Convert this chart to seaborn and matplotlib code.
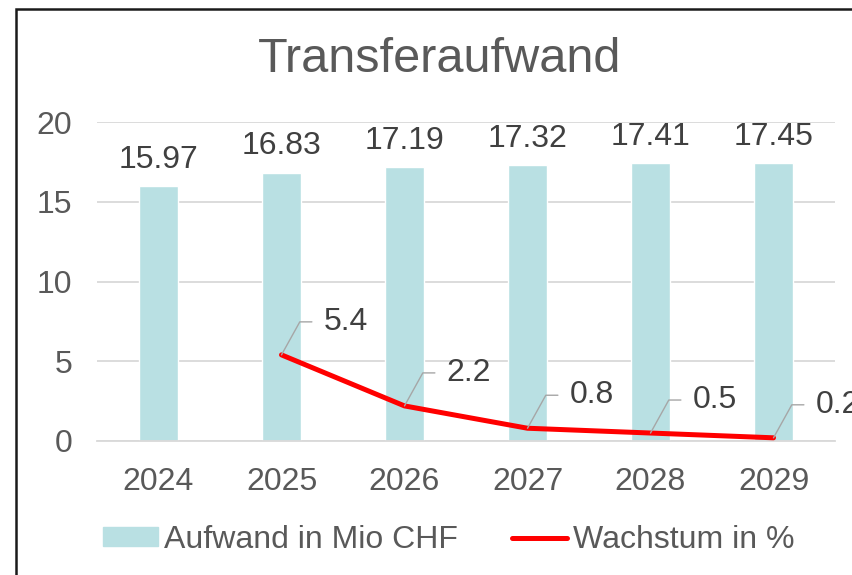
import numpy as np
import pandas as pd
import matplotlib
matplotlib.use('Agg')
import matplotlib.pyplot as plt
import matplotlib.patches as mpatches
import seaborn as sns

# chart data
years = ['2024', '2025', '2026', '2027', '2028', '2029']
aufwand = [15.97, 16.83, 17.19, 17.32, 17.41, 17.45]
wachstum = [np.nan, 5.4, 2.2, 0.8, 0.5, 0.2]

df = pd.DataFrame({'Jahr': years, 'Aufwand': aufwand, 'Wachstum': wachstum})
df['pos'] = range(len(df))

sns.set_style('white')
plt.rcParams['font.family'] = ['Liberation Sans', 'DejaVu Sans']

bar_color = '#B9E0E3'
text_dark = '#404040'
text_grey = '#595959'
fs = 23

fig = plt.figure(figsize=(8.52, 5.75), dpi=100)
ax = fig.add_axes([97 / 852, 134 / 575, 738 / 852, 319 / 575])

sns.barplot(data=df, x='Jahr', y='Aufwand', color=bar_color, width=0.31,
            saturation=1, ax=ax, label='Aufwand in Mio CHF', zorder=2)
sns.lineplot(data=df, x='pos', y='Wachstum', color='#FF0000', linewidth=3.6,
             ax=ax, label='Wachstum in %', zorder=3)

# value labels on the bars
ax.bar_label(ax.containers[0], labels=[f'{v:.2f}' for v in aufwand],
             padding=8, fontsize=fs, color=text_dark)

# growth labels with leader lines
for i, v in enumerate(wachstum):
    if np.isnan(v):
        continue
    ax.annotate(f'{v:.1f}', xy=(i, v), xytext=(42, 33), textcoords='offset pixels',
                ha='left', va='center', fontsize=fs, color=text_dark, zorder=4,
                annotation_clip=False,
                arrowprops=dict(arrowstyle='-', color='#A6A6A6', lw=1.0,
                                relpos=(0, 0.5), shrinkA=6, shrinkB=0,
                                connectionstyle='angle,angleA=0,angleB=61,rad=0'))

ax.set_xlim(-0.5, 5.5)
ax.set_ylim(0, 20)
ax.set_yticks([0, 5, 10, 15, 20])
ax.yaxis.grid(True, color='#D9D9D9', linewidth=1.3)
ax.set_axisbelow(True)
for s in ['top', 'right', 'left']:
    ax.spines[s].set_visible(False)
ax.spines['bottom'].set_color('#D9D9D9')
ax.spines['bottom'].set_linewidth(1.3)
ax.tick_params(axis='both', length=0, labelsize=fs, labelcolor=text_grey)
ax.tick_params(axis='x', pad=19)
ax.tick_params(axis='y', pad=18)
ax.set_xlabel('')
ax.set_ylabel('')
ax.get_legend().remove()

fig.text(440 / 852, 1 - 60 / 575, 'Transferaufwand', ha='center', va='center',
         fontsize=35, color=text_grey)

handles = [mpatches.Patch(color=bar_color),
           plt.Line2D([], [], color='#FF0000', linewidth=3.6, solid_capstyle='round')]
fig.legend(handles, ['Aufwand in Mio CHF', 'Wachstum in %'], loc='center',
           bbox_to_anchor=(449 / 852, 1 - 540 / 575), ncol=2, frameon=False,
           fontsize=fs, labelcolor=text_grey, handlelength=1.7, handleheight=0.55,
           handletextpad=0.2, columnspacing=1.7)

# outer chart frame (cut off on the right and bottom)
frame = mpatches.Rectangle((16 / 852, -0.1), 1.0, 1.1 - 9 / 575, transform=fig.transFigure,
                           fill=False, edgecolor='#1a1a1a', linewidth=1.8)
fig.patches.append(frame)

fig.savefig('out.png', dpi=100)
